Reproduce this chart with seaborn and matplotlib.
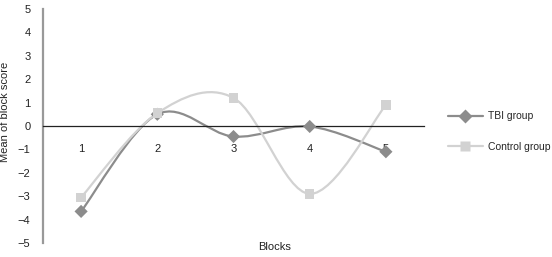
import numpy as np
import pandas as pd
import matplotlib
matplotlib.use("Agg")
import matplotlib.pyplot as plt
import seaborn as sns
from matplotlib.path import Path
from matplotlib.patches import PathPatch
from matplotlib.lines import Line2D

blocks = [1, 2, 3, 4, 5]
tbi = [-3.65, 0.5, -0.45, -0.02, -1.1]
control = [-3.05, 0.55, 1.2, -2.9, 0.9]
series_names = ["TBI group", "Control group"]
colors = {"TBI group": "#8c8c8c", "Control group": "#d2d2d2"}
markers = {"TBI group": "D", "Control group": "s"}

df = pd.DataFrame({
    "Blocks": blocks * 2,
    "score": tbi + control,
    "group": [series_names[0]] * 5 + [series_names[1]] * 5,
})

sns.set_style("white")
plt.rcParams["font.family"] = ["Liberation Sans", "DejaVu Sans"]
plt.rcParams["font.size"] = 8

fig = plt.figure(figsize=(5.52, 2.57), dpi=100)
ax = fig.add_axes([43 / 552, 1 - 243 / 257, (424 - 43) / 552, (243 - 9) / 257])


def smooth_path(xs, ys):
    pts = np.column_stack([xs, ys]).astype(float)
    n = len(pts)
    verts = [pts[0]]
    codes = [Path.MOVETO]
    for i in range(n - 1):
        p0 = pts[i - 1] if i > 0 else pts[i]
        p1 = pts[i]
        p2 = pts[i + 1]
        p3 = pts[i + 2] if i + 2 < n else pts[i + 1]
        c1 = p1 + (p2 - p0) / 6.0
        c2 = p2 - (p3 - p1) / 6.0
        verts += [c1, c2, p2]
        codes += [Path.CURVE4] * 3
    return Path(verts, codes)


for name in series_names:
    sub = df[df["group"] == name]
    patch = PathPatch(smooth_path(sub["Blocks"].values, sub["score"].values),
                      facecolor="none", edgecolor=colors[name], lw=1.6, zorder=2)
    ax.add_patch(patch)

sns.scatterplot(data=df, x="Blocks", y="score", hue="group", style="group",
                palette=colors, markers=markers, s=45, edgecolor="none",
                legend=False, ax=ax, zorder=3)

ax.set_xlim(0.5, 5.5)
ax.set_ylim(-5, 5)
ax.set_yticks(range(-5, 6))
ax.set_yticklabels([str(v).replace("-", "\u2212") for v in range(-5, 6)])
ax.set_xticks(blocks)
ax.set_xticklabels([str(b) for b in blocks])
ax.set_xticks([1.5, 2.5, 3.5, 4.5, 5.5], minor=True)
ax.tick_params(axis="x", which="major", length=0, pad=13, labelsize=8, colors="#222222")
ax.tick_params(axis="x", which="minor", direction="in", length=4, width=0.8, color="#222222")
ax.tick_params(axis="y", length=0, pad=9, labelsize=8, colors="#222222")
ax.set_xlabel("")
ax.set_ylabel("")

ax.spines["top"].set_visible(False)
ax.spines["right"].set_visible(False)
ax.spines["bottom"].set_position(("data", 0))
ax.spines["bottom"].set_color("#222222")
ax.spines["bottom"].set_linewidth(0.9)
ax.spines["left"].set_color("#999999")
ax.spines["left"].set_linewidth(1.6)
ax.set_facecolor("none")

fig.text(275 / 552, 1 - 247 / 257, "Blocks", ha="center", va="center", fontsize=8, color="#222222")
fig.text(5 / 552, 1 - 112 / 257, "Mean of block score", rotation=90, ha="center", va="center",
         fontsize=8, color="#222222")

handles = [Line2D([0], [0], color=colors[n], lw=1.6, marker=markers[n], markersize=7 if n == series_names[0] else 6.5,
                  markeredgecolor="none", markerfacecolor=colors[n]) for n in series_names]
fig.legend(handles, series_names, loc="center left", bbox_to_anchor=(445 / 552, 1 - 131.5 / 257),
           frameon=False, fontsize=7.5, handlelength=3.3, labelspacing=1.95, handletextpad=0.55,
           borderaxespad=0, borderpad=0.3)

fig.savefig("out.png", dpi=100)
